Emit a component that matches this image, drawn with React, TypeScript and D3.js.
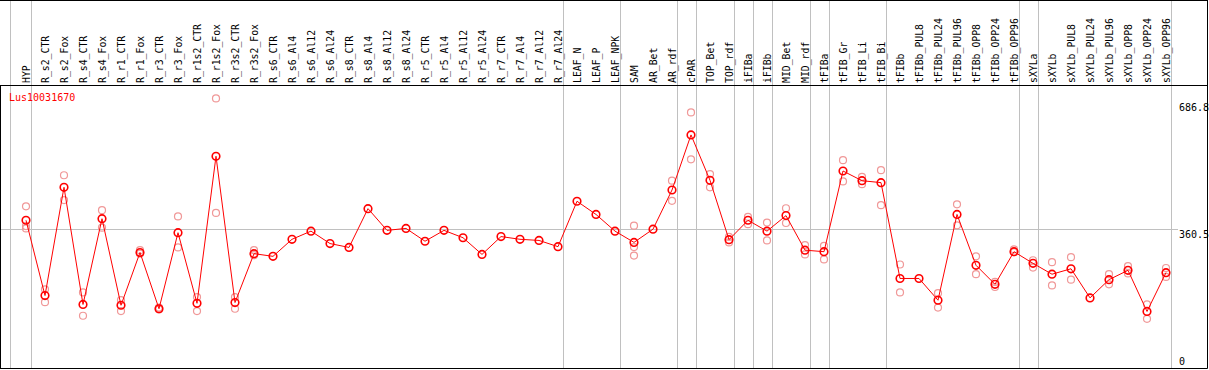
import * as d3 from "d3";
import { useEffect, useRef } from "react";

// sample names, in plotting order
const samples = [
  "HYP", "R_s2_CTR", "R_s2_Fox", "R_s4_CTR", "R_s4_Fox", "R_r1_CTR", "R_r1_Fox",
  "R_r3_CTR", "R_r3_Fox", "R_r1s2_CTR", "R_r1s2_Fox", "R_r3s2_CTR", "R_r3s2_Fox",
  "R_s6_CTR", "R_s6_Al4", "R_s6_Al12", "R_s6_Al24", "R_s8_CTR", "R_s8_Al4",
  "R_s8_Al12", "R_s8_Al24", "R_r5_CTR", "R_r5_Al4", "R_r5_Al12", "R_r5_Al24",
  "R_r7_CTR", "R_r7_Al4", "R_r7_Al12", "R_r7_Al24", "LEAF_N", "LEAF_P", "LEAF_NPK",
  "SAM", "AR_Bet", "AR_rdf", "cPAR", "TOP_Bet", "TOP_rdf", "iFIBa", "iFIBb",
  "MID_Bet", "MID_rdf", "tFIBa", "tFIB_Gr", "tFIB_Li", "tFIB_Bi", "tFIBb",
  "tFIBb_PUL8", "tFIBb_PUL24", "tFIBb_PUL96", "tFIBb_OPP8", "tFIBb_OPP24",
  "tFIBb_OPP96", "sXYLa", "sXYLb", "sXYLb_PUL8", "sXYLb_PUL24", "sXYLb_PUL96",
  "sXYLb_OPP8", "sXYLb_OPP24", "sXYLb_OPP96",
];

// mean expression per sample
const means = [
  382, 188, 467, 165, 386, 163, 299, 154, 350, 168, 547, 170, 296,
  289, 333, 354, 322, 312, 412, 356, 361, 328, 356, 337, 294,
  340, 333, 330, 314, 431, 397, 354,
  325, 359, 460, 602, 485, 332, 382, 354, 394, 305, 301,
  509, 484, 479, 232, 232, 176, 397, 266, 217, 301,
  271, 243, 257, 182, 229, 253, 147, 247,
];

// individual replicates (empty where they sit under the mean)
const replicates: number[][] = [
  [418, 367, 361], [204, 171], [498, 434], [196, 136], [408, 363], [176, 148], [305, 296],
  [157, 152], [392, 312], [184, 148], [696, 401], [184, 154], [305, 292],
  [], [], [], [], [], [], [], [], [], [], [], [],
  [], [], [], [], [], [], [],
  [368, 313, 291], [], [484, 432], [660, 539], [501, 467], [339, 325], [391, 372], [376, 330],
  [413, 375], [318, 294], [316, 281],
  [537, 482], [494, 475], [511, 421], [268, 196], [], [194, 157], [423, 369], [289, 243],
  [223, 210], [307, 300],
  [279, 260], [274, 214], [287, 229], [], [243, 217], [264, 245], [165, 128], [259, 236],
];

// index of the last sample of each group (grey separators), -1 = left edge
const groupEnds = [-1, 0, 28, 31, 34, 35, 37, 38, 39, 41, 42, 45, 52, 53, 60];

const yTicks = [686.8, 360.5, 0];
const geneName = "Lus10031670";

const W = 1209, H = 370;
const headerBottom = 85.5, plotBottom = 368.5, rightEdge = 1207.5;
const mono = "'DejaVu Sans Mono', monospace";

export default function App() {
  const ref = useRef<SVGSVGElement>(null);

  useEffect(() => {
    const svg = d3.select(ref.current);
    svg.selectAll("*").remove();

    const x = d3.scalePoint<string>().domain(samples).range([26, 1166]).padding(0);
    const y = d3.scaleLinear().domain([0, 686.8]).range([368.5, 102]);
    const step = x.step();
    const xi = (i: number) => (x(samples[0]) as number) + step * i;
    const sepX = (d: number) => (d < 0 ? 10.5 : Math.round(xi(d) + 4.5) + 0.5);

    // grey separators
    svg.append("g").selectAll("line").data(groupEnds).join("line")
      .attr("x1", sepX).attr("x2", sepX)
      .attr("y1", 0).attr("y2", plotBottom)
      .attr("stroke", "#c0c0c0").attr("stroke-width", 1);

    // middle reference line
    svg.append("line")
      .attr("x1", 0).attr("x2", 1178)
      .attr("y1", Math.round(y(360.5)) + 0.5).attr("y2", Math.round(y(360.5)) + 0.5)
      .attr("stroke", "#c0c0c0");

    // frame
    const frame = svg.append("g").attr("stroke", "#000").attr("stroke-width", 1);
    frame.append("line").attr("x1", 0).attr("x2", rightEdge).attr("y1", 0.5).attr("y2", 0.5);
    frame.append("line").attr("x1", 0).attr("x2", rightEdge).attr("y1", headerBottom).attr("y2", headerBottom);
    frame.append("line").attr("x1", 0).attr("x2", rightEdge).attr("y1", plotBottom).attr("y2", plotBottom);
    frame.append("line").attr("x1", 0.5).attr("x2", 0.5).attr("y1", headerBottom).attr("y2", plotBottom);
    frame.append("line").attr("x1", rightEdge).attr("x2", rightEdge).attr("y1", 0).attr("y2", plotBottom);

    // rotated sample labels
    svg.append("g").selectAll("text").data(samples).join("text")
      .attr("transform", (d) => `translate(${(x(d) as number) + 3.5},83) rotate(-90)`)
      .attr("font-family", mono).attr("font-size", 9.8).attr("fill", "#000")
      .text((d) => d);

    // right axis labels
    svg.append("g").selectAll("text").data(yTicks).join("text")
      .attr("x", 1179)
      .attr("y", (d) => Math.min(y(d) + 9, 365))
      .attr("font-family", mono).attr("font-size", 10).attr("fill", "#000")
      .text((d) => String(d));

    svg.append("text")
      .attr("x", 9).attr("y", 101)
      .attr("font-family", mono).attr("font-size", 10).attr("fill", "#ff0000")
      .text(geneName);

    // replicate circles
    const reps = replicates.flatMap((r, i) => r.map((v) => ({ i, v })));
    svg.append("g").selectAll("circle").data(reps).join("circle")
      .attr("cx", (d) => xi(d.i)).attr("cy", (d) => y(d.v)).attr("r", 3.5)
      .attr("fill", "none").attr("stroke", "#f09898").attr("stroke-width", 1.2);

    // mean line
    const line = d3.line<number>().x((_, i) => xi(i)).y((d) => y(d));
    svg.append("path").datum(means)
      .attr("d", line).attr("fill", "none").attr("stroke", "#ff0000").attr("stroke-width", 1);

    svg.append("g").selectAll("circle").data(means).join("circle")
      .attr("cx", (_, i) => xi(i)).attr("cy", (d) => y(d)).attr("r", 3.8)
      .attr("fill", "none").attr("stroke", "#ff0000").attr("stroke-width", 1.6);
  }, []);

  return (
    <svg ref={ref} width={W} height={H}
      style={{ position: "absolute", left: 0, top: 0, background: "#fff" }} />
  );
}
